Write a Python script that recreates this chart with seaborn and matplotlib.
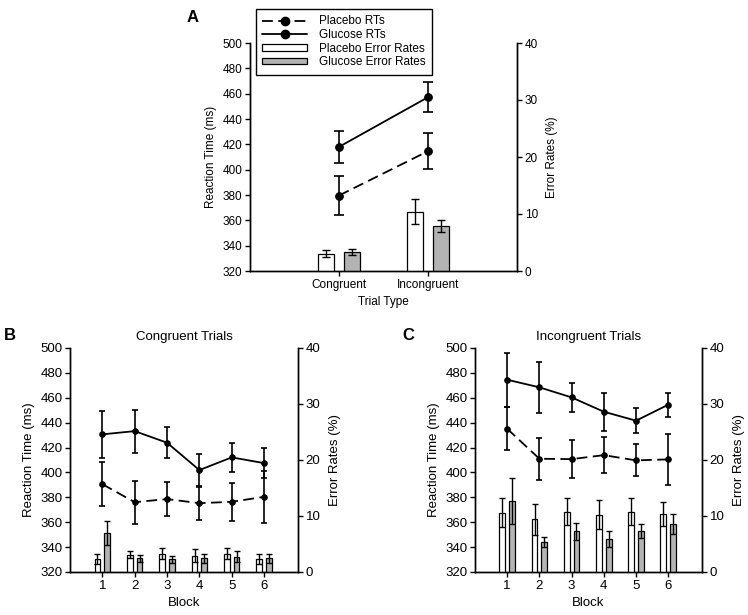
import numpy as np
import pandas as pd
import matplotlib
matplotlib.use("Agg")
import matplotlib.pyplot as plt
import seaborn as sns
from matplotlib.lines import Line2D
from matplotlib.patches import Patch

# ---- panel A: by trial type
trial_types = ["Congruent", "Incongruent"]
trial_pos = [0, 1]
a_rt_placebo = [379.6, 414.6]
a_rt_placebo_sem = [15.5, 14.0]
a_rt_glucose = [418.0, 457.2]
a_rt_glucose_sem = [12.5, 12.0]
a_er_placebo = [3.0, 10.4]
a_er_placebo_sem = [0.6, 2.2]
a_er_glucose = [3.3, 7.9]
a_er_glucose_sem = [0.55, 1.05]

# ---- panels B and C: by block
blocks = [1, 2, 3, 4, 5, 6]
block_labels = ["1", "2", "3", "4", "5", "6"]

b_rt_placebo = [390.6, 376.1, 378.6, 375.3, 376.4, 380.4]
b_rt_placebo_sem = [17.5, 17.3, 13.8, 13.4, 15.2, 20.7]
b_rt_glucose = [430.6, 433.2, 423.9, 401.9, 412.1, 407.5]
b_rt_glucose_sem = [18.6, 17.3, 12.3, 13.0, 11.4, 12.3]
b_er_placebo = [2.4, 3.1, 3.3, 2.9, 3.3, 2.4]
b_er_placebo_sem = [0.9, 0.65, 0.95, 1.15, 1.0, 0.9]
b_er_glucose = [6.9, 2.45, 2.26, 2.45, 2.7, 2.45]
b_er_glucose_sem = [2.15, 0.6, 0.65, 0.85, 1.0, 0.85]

c_rt_placebo = [435.1, 411.0, 410.7, 413.9, 409.7, 410.5]
c_rt_placebo_sem = [17.4, 16.8, 15.5, 14.5, 12.9, 20.7]
c_rt_glucose = [474.5, 468.4, 460.3, 448.8, 441.6, 454.4]
c_rt_glucose_sem = [21.6, 20.7, 11.4, 15.3, 10.0, 9.7]
c_er_placebo = [10.6, 9.4, 10.8, 10.25, 10.8, 10.4]
c_er_placebo_sem = [2.6, 2.8, 2.4, 2.6, 2.4, 2.1]
c_er_glucose = [12.7, 5.4, 7.3, 5.85, 7.3, 8.6]
c_er_glucose_sem = [4.1, 0.85, 1.5, 1.43, 1.25, 1.8]

GREY = "#b3b3b3"
conds = ["Placebo", "Glucose"]

sns.set_style("ticks", {"axes.edgecolor": "black", "xtick.color": "black",
                        "ytick.color": "black", "text.color": "black",
                        "axes.labelcolor": "black"})
plt.rcParams["font.family"] = ["Liberation Sans", "DejaVu Sans"]


def panel(ax, pos, labels, rt_p, rt_p_sem, rt_g, rt_g_sem,
          er_p, er_p_sem, er_g, er_g_sem, xlim, ms, cap, fs):
    n = len(pos)
    ax2 = ax.twinx()

    # error-rate bars on the right axis
    bars = pd.DataFrame({"pos": list(pos) * 2, "rate": er_p + er_g,
                         "cond": ["Placebo"] * n + ["Glucose"] * n})
    sns.barplot(data=bars, x="pos", y="rate", hue="cond", hue_order=conds,
                palette={"Placebo": "white", "Glucose": GREY},
                native_scale=True, width=0.6, gap=0.4, saturation=1,
                edgecolor="black", linewidth=0.9, errorbar=None,
                legend=False, ax=ax2)
    patches = sorted(ax2.patches, key=lambda p: p.get_x())
    errs = [e for pair in zip(er_p_sem, er_g_sem) for e in pair]
    ax2.errorbar([p.get_x() + p.get_width() / 2 for p in patches],
                 [p.get_height() for p in patches], yerr=errs, fmt="none",
                 ecolor="black", elinewidth=1, capsize=cap * 0.8, capthick=1)

    # reaction-time lines on the left axis
    rts = pd.DataFrame({"pos": list(pos) * 2, "rt": rt_p + rt_g,
                        "cond": ["Placebo"] * n + ["Glucose"] * n})
    sns.lineplot(data=rts, x="pos", y="rt", style="cond", style_order=conds,
                 dashes={"Placebo": (6, 3), "Glucose": ""},
                 markers={"Placebo": "o", "Glucose": "o"}, color="black",
                 markersize=ms, markeredgecolor="black", linewidth=1.3,
                 errorbar=None, legend=False, ax=ax)
    for vals, sem in ((rt_p, rt_p_sem), (rt_g, rt_g_sem)):
        ax.errorbar(pos, vals, yerr=sem, fmt="none", ecolor="black",
                    elinewidth=1.2, capsize=cap, capthick=1.2)

    ax.set_ylim(320, 500)
    ax.set_yticks(np.arange(320, 501, 20))
    ax2.set_ylim(0, 40)
    ax2.set_yticks([0, 10, 20, 30, 40])
    ax.set_xlim(*xlim)
    ax.set_xticks(pos)
    ax.set_xticklabels(labels)
    for a in (ax, ax2):
        a.spines["top"].set_visible(False)
        for s in a.spines.values():
            s.set_linewidth(1)
        a.tick_params(length=3.5, width=1, labelsize=fs, pad=2)
    ax.set_ylabel("Reaction Time (ms)", fontsize=fs)
    ax2.set_ylabel("Error Rates (%)", fontsize=fs, labelpad=6)
    return ax2


fig = plt.figure(figsize=(7.48, 6.15), dpi=100)

axA = fig.add_axes([250 / 748, 1 - 271 / 615, 267 / 748, 228 / 615])
panel(axA, trial_pos, trial_types, a_rt_placebo, a_rt_placebo_sem,
      a_rt_glucose, a_rt_glucose_sem, a_er_placebo, a_er_placebo_sem,
      a_er_glucose, a_er_glucose_sem, (-1, 2), 5.5, 3.5, 8.5)
axA.set_xlabel("Trial Type", fontsize=8.5)

axB = fig.add_axes([70 / 748, 1 - 572 / 615, 228 / 748, 224 / 615])
panel(axB, blocks, block_labels, b_rt_placebo, b_rt_placebo_sem,
      b_rt_glucose, b_rt_glucose_sem, b_er_placebo, b_er_placebo_sem,
      b_er_glucose, b_er_glucose_sem, (0, 7.05), 4, 2.5, 9.5)
axB.set_xlabel("Block", fontsize=9.5)
axB.set_title("Congruent Trials", fontsize=9.5, pad=6)

axC = fig.add_axes([475 / 748, 1 - 572 / 615, 227 / 748, 224 / 615])
panel(axC, blocks, block_labels, c_rt_placebo, c_rt_placebo_sem,
      c_rt_glucose, c_rt_glucose_sem, c_er_placebo, c_er_placebo_sem,
      c_er_glucose, c_er_glucose_sem, (0, 7.05), 4, 2.5, 9.5)
axC.set_xlabel("Block", fontsize=9.5)
axC.set_title("Incongruent Trials", fontsize=9.5, pad=6)

handles = [
    Line2D([], [], color="black", linestyle=(0, (6, 3)), marker="o",
           markersize=6, linewidth=1.3),
    Line2D([], [], color="black", marker="o", markersize=6, linewidth=1.3),
    Patch(facecolor="white", edgecolor="black", linewidth=0.9),
    Patch(facecolor=GREY, edgecolor="black", linewidth=0.9),
]
labels = ["Placebo RTs", "Glucose RTs", "Placebo Error Rates",
          "Glucose Error Rates"]
leg = fig.legend(handles, labels, loc="upper left",
                 bbox_to_anchor=(256 / 748, 1 - 9 / 615), frameon=True,
                 fancybox=False, edgecolor="black", framealpha=1,
                 fontsize=8.5, handlelength=3.8, handleheight=0.45,
                 labelspacing=0.14, borderpad=0.55, handletextpad=1.0,
                 borderaxespad=0)
leg.get_frame().set_linewidth(1)

fig.text(187 / 748, 1 - 18 / 615, "A", fontsize=12, fontweight="bold",
         va="center")
fig.text(4 / 748, 1 - 336 / 615, "B", fontsize=12, fontweight="bold",
         va="center")
fig.text(402 / 748, 1 - 336 / 615, "C", fontsize=12, fontweight="bold",
         va="center")

fig.savefig("out.png", dpi=100)
